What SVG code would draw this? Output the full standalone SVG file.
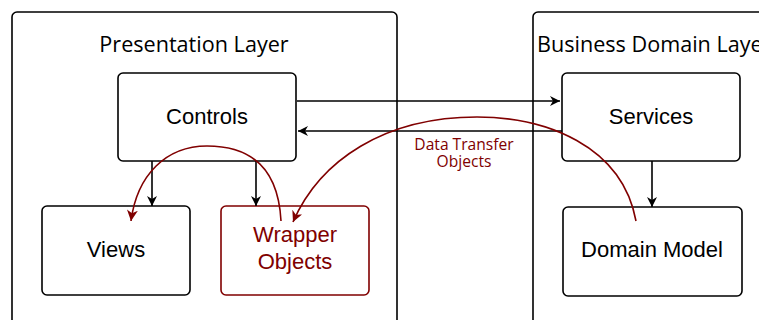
<svg xmlns="http://www.w3.org/2000/svg" width="759" height="320" viewBox="0 0 759 320">
  <style>
    .layer { fill: #fff; stroke: #000; stroke-width: 1.6; }
    .node { fill: #fff; stroke: #000; stroke-width: 1.6; }
    .node.dto { stroke: #800000; }
    .title { font-family: "Open Sans", "DejaVu Sans", sans-serif; font-size: 21.6px; fill: #000; }
    .label { font-family: "Liberation Sans", Arial, sans-serif; font-size: 22px; fill: #000; text-anchor: middle; }
    .label.dto { fill: #800000; }
    .edge { fill: none; stroke: #000; stroke-width: 1.6; }
    .flow { fill: none; stroke: #800000; stroke-width: 1.6; }
    .flowText { font-family: "Open Sans", "DejaVu Sans", sans-serif; font-size: 15.6px; fill: #800000; text-anchor: middle; }
  </style>
  <defs>
    <marker id="arrowBlack" viewBox="0 0 10 10" refX="10" refY="5" markerWidth="10" markerHeight="10" markerUnits="userSpaceOnUse" orient="auto">
      <path d="M0,0 L10,5 L0,10 L3,5 z" fill="#000"/>
    </marker>
    <marker id="arrowRed" viewBox="0 0 10 10" refX="10" refY="5" markerWidth="11" markerHeight="11" markerUnits="userSpaceOnUse" orient="auto">
      <path d="M0,0 L10,5 L0,10 L3,5 z" fill="#800000"/>
    </marker>
  </defs>

  <rect width="759" height="320" fill="#fff"/>

  <g id="presentation-layer">
    <rect class="layer" x="12" y="12" width="385" height="330" rx="5"/>
    <text class="title" x="194" y="52" text-anchor="middle">Presentation Layer</text>
  </g>
  <g id="business-domain-layer">
    <rect class="layer" x="533" y="12" width="260" height="330" rx="5"/>
    <text class="title" x="537" y="52">Business Domain Layer</text>
  </g>

  <g id="controls">
    <rect class="node" x="118" y="73" width="178" height="88" rx="5"/>
    <text class="label" x="207" y="124">Controls</text>
  </g>
  <g id="views">
    <rect class="node" x="42" y="206" width="148" height="89" rx="5"/>
    <text class="label" x="116" y="257">Views</text>
  </g>
  <g id="wrapper-objects">
    <rect class="node dto" x="221" y="206" width="148" height="89" rx="5"/>
    <text class="label dto" x="295" y="242">Wrapper</text>
    <text class="label dto" x="295" y="269">Objects</text>
  </g>
  <g id="services">
    <rect class="node" x="562" y="73" width="178" height="88" rx="5"/>
    <text class="label" x="651" y="124">Services</text>
  </g>
  <g id="domain-model">
    <rect class="node" x="563" y="207" width="179" height="89" rx="5"/>
    <text class="label" x="652" y="257">Domain Model</text>
  </g>

  <g id="connectors">
    <line class="edge" x1="297" y1="101" x2="560" y2="101" marker-end="url(#arrowBlack)"/>
    <line class="edge" x1="562" y1="131" x2="298" y2="131" marker-end="url(#arrowBlack)"/>
    <line class="edge" x1="152" y1="161" x2="152" y2="206" marker-end="url(#arrowBlack)"/>
    <line class="edge" x1="256" y1="161" x2="256" y2="206" marker-end="url(#arrowBlack)"/>
    <line class="edge" x1="652" y1="161" x2="652" y2="207" marker-end="url(#arrowBlack)"/>

    <path class="flow" d="M281,221 C278,163 245,146 207,146 C166,146 137,175 131,221" marker-end="url(#arrowRed)"/>
    <path class="flow" d="M636,221 C622,145 545,117 477,117 C385,117 320,160 293,222" marker-end="url(#arrowRed)"/>
    <text class="flowText" x="464" y="150">Data Transfer</text>
    <text class="flowText" x="464" y="166.5">Objects</text>
  </g>
</svg>
